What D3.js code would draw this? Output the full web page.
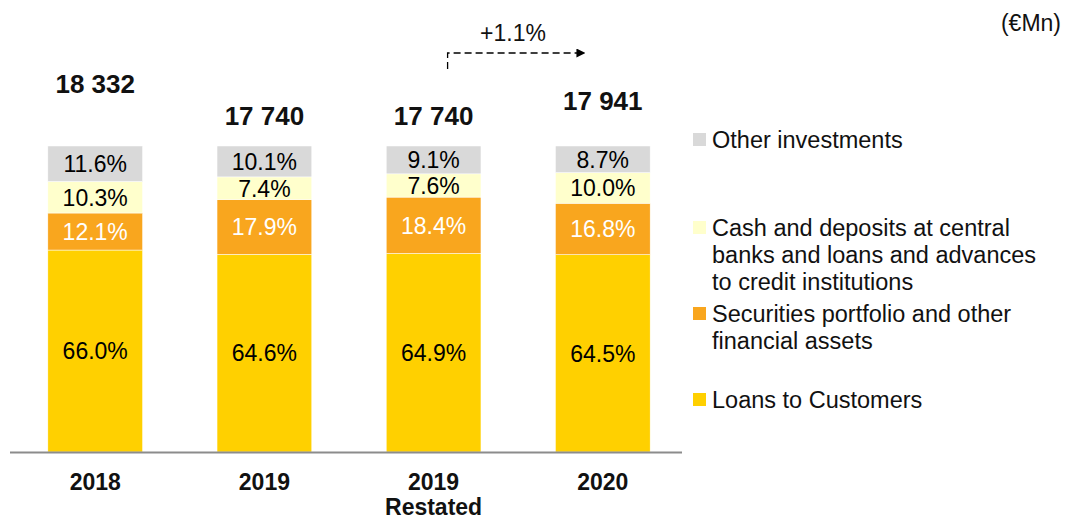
<!DOCTYPE html>
<html>
<head>
<meta charset="utf-8">
<script src="https://cdn.jsdelivr.net/npm/d3@7"></script>
<style>
  html, body { margin: 0; padding: 0; background: #fff; }
  svg { display: block; font-family: "Liberation Sans", Arial, sans-serif; }
</style>
</head>
<body>
<svg id="chart" width="1067" height="519"></svg>
<script>
// Asset structure by year (share of total assets, %)
const categories = ["2018", "2019", "2019R", "2020"];
const categoryLines = [["2018"], ["2019"], ["2019", "Restated"], ["2020"]];
const totals = [18332, 17740, 17740, 17941];

const loans      = [66.0, 64.6, 64.9, 64.5];
const securities = [12.1, 17.9, 18.4, 16.8];
const cash       = [10.3, 7.4, 7.6, 10.0];
const other      = [11.6, 10.1, 9.1, 8.7];

const seriesKeys = ["loans", "securities", "cash", "other"];
const seriesNames = {
  other: ["Other investments"],
  cash: ["Cash and deposits at central", "banks and loans and advances", "to credit institutions"],
  securities: ["Securities portfolio and other", "financial assets"],
  loans: ["Loans to Customers"]
};
const colors = { loans: "#FFD000", securities: "#F9A61E", cash: "#FFFFCC", other: "#D9D9D9" };
const labelColors = { loans: "#000", securities: "#fff", cash: "#000", other: "#000" };

const growthLabel = "+1.1%";
const unitLabel = "(\u20ACMn)";

const rows = categories.map((c, i) => ({
  key: c, loans: loans[i], securities: securities[i], cash: cash[i], other: other[i]
}));

const svg = d3.select("#chart");

const x = d3.scaleBand().domain(categories).range([14, 684]).paddingInner(0.44).paddingOuter(0.2);
const y = d3.scaleLinear().domain([0, 100]).range([452, 146]);
const totalY = d3.scaleLinear().domain([17740, 17941, 18332]).range([116, 101, 84]);

const stack = d3.stack().keys(seriesKeys)(rows);

const layers = svg.append("g").selectAll("g").data(stack).join("g")
  .attr("fill", d => colors[d.key]);

layers.selectAll("rect").data(d => d.map(p => ({ p, key: d.key }))).join("rect")
  .attr("x", d => x(d.p.data.key))
  .attr("width", x.bandwidth())
  .attr("y", d => y(d.p[1]))
  .attr("height", d => y(d.p[0]) - y(d.p[1]))
  .attr("stroke", "#fff")
  .attr("stroke-width", 0.5);

// Segment percentage labels
layers.selectAll("text").data(d => d.map(p => ({ p, key: d.key }))).join("text")
  .attr("x", d => x(d.p.data.key) + x.bandwidth() / 2)
  .attr("y", d => (y(d.p[0]) + y(d.p[1])) / 2)
  .attr("dy", "0.36em")
  .attr("text-anchor", "middle")
  .attr("font-size", 23)
  .attr("fill", d => labelColors[d.key])
  .text(d => (d.p[1] - d.p[0]).toFixed(1) + "%");

// Axis baseline
const xAxis = d3.axisBottom(x).tickSize(0).tickFormat("");
const axisG = svg.append("g").attr("transform", "translate(0,452.5)").call(xAxis);
axisG.select(".domain").attr("stroke", "#8c8c8c").attr("stroke-width", 2)
  .attr("d", "M" + 10 + ",0H" + 682);

// Category labels
const catG = svg.append("g");
categories.forEach((c, i) => {
  const t = catG.append("text")
    .attr("x", x(c) + x.bandwidth() / 2)
    .attr("y", 490)
    .attr("text-anchor", "middle")
    .attr("font-size", 23)
    .attr("font-weight", "bold")
    .attr("fill", "#111");
  categoryLines[i].forEach((line, j) => {
    t.append("tspan").attr("x", x(c) + x.bandwidth() / 2).attr("dy", j === 0 ? 0 : 25).text(line);
  });
});

// Totals above bars
svg.append("g").selectAll("text").data(categories).join("text")
  .attr("x", c => x(c) + x.bandwidth() / 2)
  .attr("y", (c, i) => totalY(totals[i]))
  .attr("dy", "0.36em")
  .attr("text-anchor", "middle")
  .attr("font-size", 26)
  .attr("font-weight", "bold")
  .attr("fill", "#111")
  .text((c, i) => d3.format(",")(totals[i]).replace(/,/g, " "));

// Growth arrow between 2019 restated and 2020
const defs = svg.append("defs");
defs.append("marker").attr("id", "arrowhead")
  .attr("viewBox", "0 0 10 10").attr("refX", 10).attr("refY", 5)
  .attr("markerWidth", 9).attr("markerHeight", 9)
  .attr("markerUnits", "userSpaceOnUse")
  .attr("orient", "auto")
  .append("path").attr("d", "M0,0L10,5L0,10Z").attr("fill", "#000");

const ax0 = x("2019R") + x.bandwidth() / 2 + 14;
const ax1 = x("2020") + 30;
svg.append("path")
  .attr("d", `M${ax0},69V53H${ax1}`)
  .attr("fill", "none")
  .attr("stroke", "#000")
  .attr("stroke-width", 1.3)
  .attr("stroke-dasharray", "7,4")
  .attr("marker-end", "url(#arrowhead)");

svg.append("text")
  .attr("x", 513)
  .attr("y", 33)
  .attr("dy", "0.36em")
  .attr("text-anchor", "middle")
  .attr("font-size", 23)
  .attr("fill", "#111")
  .text(growthLabel);

// Unit
svg.append("text")
  .attr("x", 1061).attr("y", 23).attr("dy", "0.36em")
  .attr("text-anchor", "end")
  .attr("font-size", 23)
  .attr("fill", "#111")
  .text(unitLabel);

// Legend
const legendOrder = ["other", "cash", "securities", "loans"];
const legendY = { other: 140, cash: 228, securities: 314, loans: 400 };
const lg = svg.append("g");
legendOrder.forEach(k => {
  lg.append("rect")
    .attr("x", 693).attr("y", legendY[k] - 7)
    .attr("width", 13).attr("height", 13)
    .attr("fill", colors[k]);
  const t = lg.append("text")
    .attr("x", 712).attr("y", legendY[k])
    .attr("font-size", 23.5).attr("fill", "#111");
  seriesNames[k].forEach((line, j) => {
    t.append("tspan").attr("x", 712).attr("dy", j === 0 ? "0.36em" : 26.7).text(line);
  });
});
</script>
</body>
</html>
